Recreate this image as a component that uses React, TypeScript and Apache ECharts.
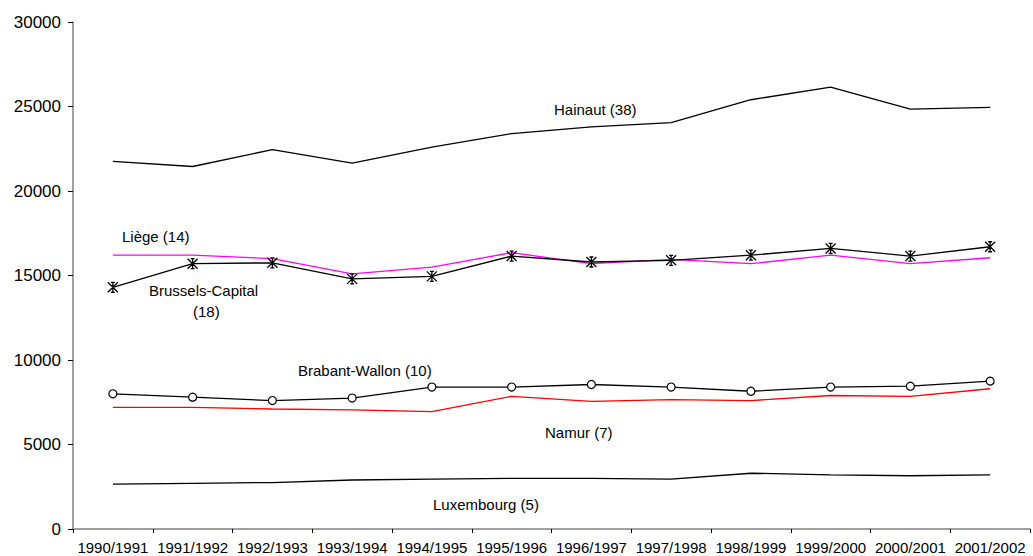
import React, { useEffect, useRef } from "react";
import * as echarts from "echarts";

const categories = [
  "1990/1991", "1991/1992", "1992/1993", "1993/1994", "1994/1995", "1995/1996",
  "1996/1997", "1997/1998", "1998/1999", "1999/2000", "2000/2001", "2001/2002",
];

const hainaut = [21750, 21450, 22450, 21650, 22600, 23400, 23800, 24050, 25400, 26150, 24850, 24950];
const liege = [16200, 16200, 16000, 15100, 15500, 16350, 15700, 15950, 15700, 16200, 15700, 16050];
const brussels = [14300, 15700, 15750, 14800, 14950, 16150, 15800, 15900, 16200, 16600, 16150, 16700];
const brabantWallon = [8000, 7800, 7600, 7750, 8400, 8400, 8550, 8400, 8150, 8400, 8450, 8750];
const namur = [7200, 7200, 7100, 7050, 6950, 7850, 7550, 7650, 7600, 7900, 7850, 8300];
const luxembourg = [2650, 2700, 2750, 2900, 2950, 3000, 3000, 2950, 3300, 3200, 3150, 3200];

const yTicks = { min: 0, max: 30000, interval: 5000 };

const annotations = [
  { text: "Hainaut (38)", x: 554, y: 109 },
  { text: "Liège (14)", x: 122, y: 236 },
  { text: "Brussels-Capital", x: 149, y: 290 },
  { text: "(18)", x: 193, y: 311 },
  { text: "Brabant-Wallon (10)", x: 298, y: 370 },
  { text: "Namur (7)", x: 545, y: 432 },
  { text: "Luxembourg (5)", x: 433, y: 504 },
];

const FONT = "'Liberation Sans', Arial, sans-serif";
const ASTERISK = "path://M0,0L10,10M10,0L0,10M5,0L5,10M3,0L7,0M3,10L7,10";

export default function App() {
  const ref = useRef<HTMLDivElement>(null);

  useEffect(() => {
    if (!ref.current) return;
    const chart = echarts.init(ref.current, null, { renderer: "svg" });
    const axisGray = "#808080";
    chart.setOption({
      animation: false,
      backgroundColor: "#ffffff",
      grid: { left: 73, right: 3, top: 22, bottom: 27, containLabel: false },
      xAxis: {
        type: "category",
        data: categories,
        boundaryGap: true,
        axisLine: { lineStyle: { color: axisGray, width: 1.5 } },
        axisTick: { show: true, length: 4, lineStyle: { color: "#000" }, alignWithLabel: false },
        axisLabel: { color: "#000", fontFamily: FONT, fontSize: 15, margin: 11, interval: 0 },
        splitLine: { show: false },
      },
      yAxis: {
        type: "value",
        min: yTicks.min,
        max: yTicks.max,
        interval: yTicks.interval,
        axisLine: { show: true, lineStyle: { color: axisGray, width: 1.5 } },
        axisTick: { show: true, length: 5, lineStyle: { color: "#000" } },
        axisLabel: {
          color: "#000",
          fontFamily: FONT,
          fontSize: 17,
          margin: 12,
          formatter: (v: number) => String(v),
        },
        splitLine: { show: false },
      },
      series: [
        {
          name: "Hainaut (38)",
          type: "line",
          data: hainaut,
          showSymbol: false,
          lineStyle: { color: "#000", width: 1.3 },
        },
        {
          name: "Liège (14)",
          type: "line",
          data: liege,
          showSymbol: false,
          lineStyle: { color: "#ff00ff", width: 1.3 },
        },
        {
          name: "Brussels-Capital (18)",
          type: "line",
          data: brussels,
          symbol: ASTERISK,
          symbolSize: 10,
          lineStyle: { color: "#000", width: 1.3 },
          itemStyle: { color: "#000", borderColor: "#000", borderWidth: 1.3 },
        },
        {
          name: "Brabant-Wallon (10)",
          type: "line",
          data: brabantWallon,
          symbol: "circle",
          symbolSize: 8,
          lineStyle: { color: "#000", width: 1.3 },
          itemStyle: { color: "#fff", borderColor: "#000", borderWidth: 1.2 },
        },
        {
          name: "Namur (7)",
          type: "line",
          data: namur,
          showSymbol: false,
          lineStyle: { color: "#ff0000", width: 1.3 },
        },
        {
          name: "Luxembourg (5)",
          type: "line",
          data: luxembourg,
          showSymbol: false,
          lineStyle: { color: "#000", width: 1.3 },
        },
      ],
      graphic: annotations.map((a) => ({
        type: "text",
        x: a.x,
        y: a.y,
        style: {
          text: a.text,
          fill: "#000",
          font: `15px ${FONT}`,
          textAlign: "left",
          textVerticalAlign: "middle",
        },
      })),
    });
    return () => chart.dispose();
  }, []);

  return (
    <div
      ref={ref}
      style={{ position: "fixed", left: 0, top: 0, width: 1033, height: 556, background: "#fff" }}
    />
  );
}
